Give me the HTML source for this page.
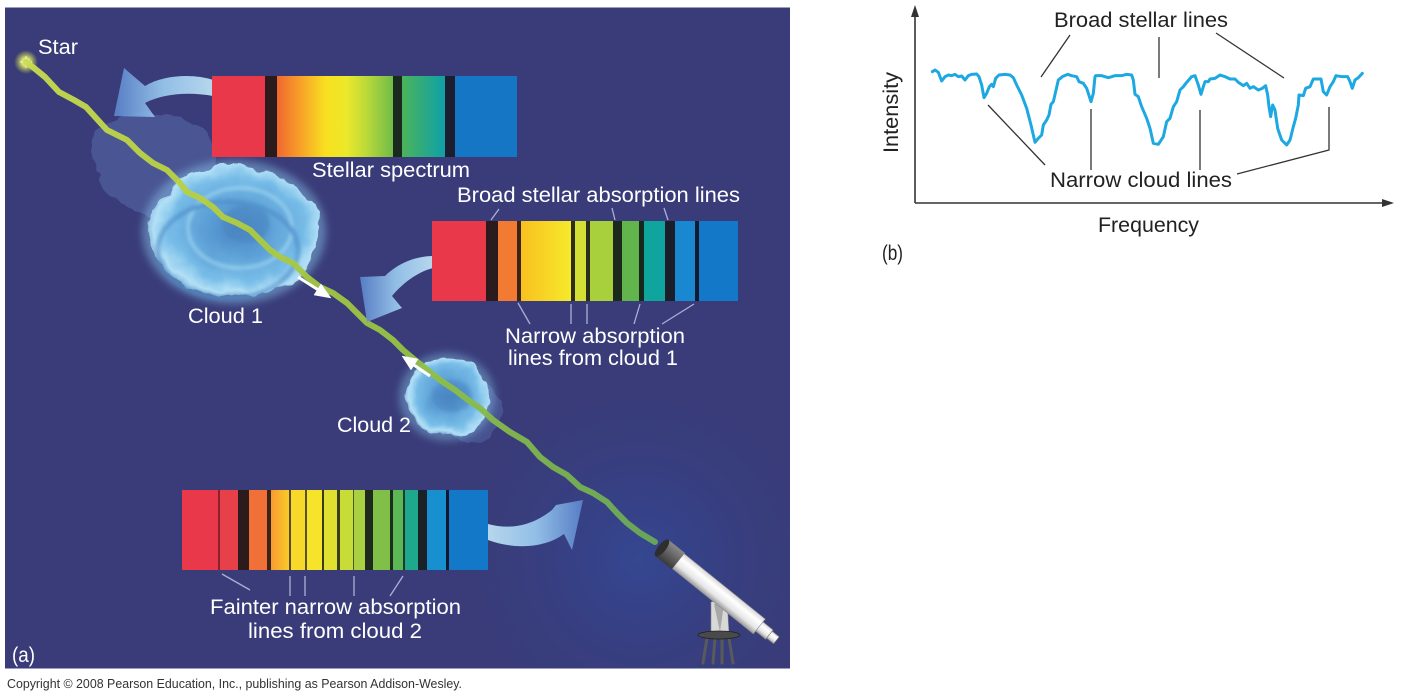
<!DOCTYPE html>
<html><head><meta charset="utf-8"><style>
html,body{margin:0;padding:0;background:#fff;}
svg{display:block;}
text{font-family:"Liberation Sans",Arial,sans-serif;}
</style></head><body>
<svg width="1402" height="700" viewBox="0 0 1402 700" xmlns="http://www.w3.org/2000/svg">
<defs>
  <radialGradient id="glowT" cx="640" cy="560" r="200" gradientUnits="userSpaceOnUse">
    <stop offset="0" stop-color="#2f55b0" stop-opacity="0.45"/>
    <stop offset="0.5" stop-color="#3048a0" stop-opacity="0.2"/>
    <stop offset="1" stop-color="#393c78" stop-opacity="0"/>
  </radialGradient>
  <radialGradient id="cloudG" cx="0.52" cy="0.48" r="0.55">
    <stop offset="0" stop-color="#4a86c4"/>
    <stop offset="0.35" stop-color="#5c9fd6"/>
    <stop offset="0.7" stop-color="#78bde8"/>
    <stop offset="0.88" stop-color="#b2e0f6"/>
    <stop offset="1" stop-color="#9ed2f0" stop-opacity="0.6"/>
  </radialGradient>
  <radialGradient id="starG" cx="26" cy="62" r="12" gradientUnits="userSpaceOnUse">
    <stop offset="0" stop-color="#ffffe0"/>
    <stop offset="0.35" stop-color="#e8f070" stop-opacity="0.9"/>
    <stop offset="1" stop-color="#c0d040" stop-opacity="0"/>
  </radialGradient>
  <linearGradient id="pathG" x1="26" y1="62" x2="655" y2="542" gradientUnits="userSpaceOnUse">
    <stop offset="0" stop-color="#c8dc50"/>
    <stop offset="0.35" stop-color="#b0cc40"/>
    <stop offset="0.7" stop-color="#8abc48"/>
    <stop offset="1" stop-color="#6aa85a"/>
  </linearGradient>
  <linearGradient id="arrG" x1="0" y1="0" x2="1" y2="0">
    <stop offset="0" stop-color="#5b84cc"/>
    <stop offset="0.5" stop-color="#9ccdf2"/>
    <stop offset="1" stop-color="#c4e8fa"/>
  </linearGradient>
  <linearGradient id="arrG2" x1="1" y1="0" x2="0" y2="0">
    <stop offset="0" stop-color="#5b84cc"/>
    <stop offset="0.5" stop-color="#9ccdf2"/>
    <stop offset="1" stop-color="#c4e8fa"/>
  </linearGradient>
  <linearGradient id="s1a" x1="277" x2="393" y1="0" y2="0" gradientUnits="userSpaceOnUse">
    <stop offset="0" stop-color="#f06830"/>
    <stop offset="0.2" stop-color="#f8a028"/>
    <stop offset="0.42" stop-color="#f8e020"/>
    <stop offset="0.6" stop-color="#ece82a"/>
    <stop offset="0.78" stop-color="#b8d83a"/>
    <stop offset="1" stop-color="#70bc48"/>
  </linearGradient>
  <linearGradient id="s1b" x1="402" x2="445" y1="0" y2="0" gradientUnits="userSpaceOnUse">
    <stop offset="0" stop-color="#4cb45a"/>
    <stop offset="1" stop-color="#0ea0a8"/>
  </linearGradient>
  <linearGradient id="s2y" x1="521" x2="571" y1="0" y2="0" gradientUnits="userSpaceOnUse">
    <stop offset="0" stop-color="#f8c020"/>
    <stop offset="1" stop-color="#f6ea2a"/>
  </linearGradient>
  <linearGradient id="s3o" x1="271" x2="289" y1="0" y2="0" gradientUnits="userSpaceOnUse">
    <stop offset="0" stop-color="#f89a30"/>
    <stop offset="1" stop-color="#f8cc28"/>
  </linearGradient>
  <linearGradient id="tubeG" x1="0" y1="0" x2="0" y2="1">
    <stop offset="0" stop-color="#d8d8d8"/>
    <stop offset="0.3" stop-color="#ffffff"/>
    <stop offset="0.7" stop-color="#e6e6e6"/>
    <stop offset="1" stop-color="#9a9a9a"/>
  </linearGradient>
  <linearGradient id="capG" x1="0" y1="0" x2="0" y2="1">
    <stop offset="0" stop-color="#8a8a8a"/>
    <stop offset="0.4" stop-color="#6a6a6a"/>
    <stop offset="1" stop-color="#3a3a3a"/>
  </linearGradient>
  <filter id="rough" x="-20%" y="-20%" width="140%" height="140%">
    <feTurbulence type="fractalNoise" baseFrequency="0.045" numOctaves="3" seed="4" result="n"/>
    <feDisplacementMap in="SourceGraphic" in2="n" scale="14" xChannelSelector="R" yChannelSelector="G"/>
  </filter>
  <filter id="blur4"><feGaussianBlur stdDeviation="4"/></filter>
  <filter id="blur2"><feGaussianBlur stdDeviation="1.5"/></filter>
</defs>

<!-- ===== Panel (a) ===== -->
<rect x="5" y="7.5" width="785" height="661" fill="#393c78"/>
<rect x="5" y="7.5" width="785" height="661" fill="url(#glowT)"/>

<!-- faint cloud tails -->
<g opacity="0.35" filter="url(#rough)">
  <path d="M92,150 C90,130 110,112 140,114 C170,112 205,122 215,145 C222,175 210,205 185,218 C160,225 130,215 112,195 C98,182 94,165 92,150 Z" fill="#6a88c8"/>
</g>
<g opacity="0.3" filter="url(#rough)">
  <ellipse cx="470" cy="412" rx="34" ry="30" fill="#6a8ac8"/>
</g>

<!-- cloud 1 -->
<ellipse cx="234" cy="232" rx="92" ry="72" fill="#8ccaf0" opacity="0.45" filter="url(#blur4)"/>
<g filter="url(#rough)">
  <ellipse cx="234" cy="232" rx="86" ry="66" fill="url(#cloudG)"/>
</g>
<g opacity="0.55" filter="url(#blur2)">
  <ellipse cx="240" cy="228" rx="52" ry="40" fill="none" stroke="#a8dcf4" stroke-width="4"/>
  <ellipse cx="246" cy="224" rx="24" ry="19" fill="#4a84c0"/>
  <ellipse cx="228" cy="250" rx="70" ry="48" fill="none" stroke="#4a88c4" stroke-width="5"/>
</g>

<!-- cloud 2 -->
<ellipse cx="447" cy="397" rx="48" ry="44" fill="#8ccaf0" opacity="0.4" filter="url(#blur4)"/>
<g filter="url(#rough)">
  <ellipse cx="447" cy="397" rx="43" ry="39" fill="url(#cloudG)"/>
</g>
<g opacity="0.5" filter="url(#blur2)">
  <ellipse cx="452" cy="396" rx="20" ry="16" fill="#4a84c0"/>
</g>

<!-- star -->
<circle cx="26" cy="62" r="12" fill="url(#starG)"/>
<path d="M20,62 H32 M26,56 V68" stroke="#ffffd0" stroke-width="1" opacity="0.8"/>

<!-- light path -->
<polyline fill="none" stroke="url(#pathG)" stroke-width="6" stroke-linecap="round" stroke-linejoin="round" opacity="0.95"
 points="26,62 34,68 45,77 59,92 74,100 86,107 96,118 107,130 127,140 140,153 153,163 167,170 180,183 187,192 200,198 213,207 223,217 237,223 250,230 260,240 270,250 280,257 293,263 307,277 320,287 333,293 347,303 357,313 367,323 380,330 393,340 403,350 415,360 425,368 440,380 455,390 468,400 480,408 493,420 510,432 527,442 540,457 553,467 567,475 580,487 593,493 607,502 617,513 627,523 640,533 655,542"/>

<!-- white arrows on clouds -->
<g fill="#ffffff" stroke="#ffffff">
  <line x1="298" y1="277" x2="320" y2="291" stroke-width="3"/>
  <polygon points="331,298 314,295 321,284" stroke-width="0.5"/>
  <line x1="430" y1="376" x2="411" y2="363" stroke-width="3"/>
  <polygon points="402,356 418,359 411,370" stroke-width="0.5"/>
</g>

<!-- blue curved arrows -->
<path d="M213,80 C195,74 165,74 145,86 L124,68 L114,116 L155,117 L145,103 C165,93 190,92 213,96 Z" fill="url(#arrG)" opacity="0.9"/>
<path d="M433,256 C415,256 397,264 385,276 L360,277 L367,322 L402,308 L392,296 C402,284 417,272 433,268 Z" fill="url(#arrG)" opacity="0.9"/>
<path d="M488,524 C510,530 532,526 552,510 L556,505 L583,500 L572,550 L564,534 C545,548 515,550 488,540 Z" fill="url(#arrG2)" opacity="0.9"/>

<!-- spectrum 1 (stellar) -->
<g>
  <rect x="212" y="76" width="53" height="81" fill="#e8384a"/>
  <rect x="265" y="76" width="12" height="81" fill="#2b1b1d"/>
  <rect x="277" y="76" width="116" height="81" fill="url(#s1a)"/>
  <rect x="393" y="76" width="9" height="81" fill="#1a2a1e"/>
  <rect x="402" y="76" width="43" height="81" fill="url(#s1b)"/>
  <rect x="445" y="76" width="10" height="81" fill="#1a1e2e"/>
  <rect x="455" y="76" width="62" height="81" fill="#1676c6"/>
</g>

<!-- spectrum 2 (cloud 1) -->
<g>
  <rect x="432" y="221" width="54" height="80" fill="#e8384a"/>
  <rect x="486" y="221" width="12" height="80" fill="#2b1b1d"/>
  <rect x="498" y="221" width="19" height="80" fill="#f27a32"/>
  <rect x="517" y="221" width="4" height="80" fill="#3a2418"/>
  <rect x="521" y="221" width="50" height="80" fill="url(#s2y)"/>
  <rect x="571" y="221" width="4" height="80" fill="#2e2e1a"/>
  <rect x="575" y="221" width="11" height="80" fill="#d4e034"/>
  <rect x="586" y="221" width="4" height="80" fill="#2a2e1a"/>
  <rect x="590" y="221" width="23" height="80" fill="#a8d03c"/>
  <rect x="613" y="221" width="9" height="80" fill="#1c2a1c"/>
  <rect x="622" y="221" width="17" height="80" fill="#62b44c"/>
  <rect x="639" y="221" width="5" height="80" fill="#16281e"/>
  <rect x="644" y="221" width="21" height="80" fill="#10a49e"/>
  <rect x="665" y="221" width="10" height="80" fill="#1a1e2a"/>
  <rect x="675" y="221" width="20" height="80" fill="#1a88d0"/>
  <rect x="695" y="221" width="4" height="80" fill="#121a30"/>
  <rect x="699" y="221" width="39" height="80" fill="#1478c8"/>
</g>

<!-- spectrum 3 (cloud 2) -->
<g>
  <rect x="182" y="490" width="36" height="80" fill="#e8384a"/>
  <rect x="218" y="490" width="2" height="80" fill="#8a2030"/>
  <rect x="220" y="490" width="18" height="80" fill="#e84048"/>
  <rect x="238" y="490" width="11" height="80" fill="#2b1b1d"/>
  <rect x="249" y="490" width="18" height="80" fill="#f07038"/>
  <rect x="267" y="490" width="4" height="80" fill="#3a2418"/>
  <rect x="271" y="490" width="18" height="80" fill="url(#s3o)"/>
  <rect x="289" y="490" width="2" height="80" fill="#5a4a20"/>
  <rect x="291" y="490" width="14" height="80" fill="#f8d828"/>
  <rect x="305" y="490" width="2" height="80" fill="#5a5220"/>
  <rect x="307" y="490" width="15" height="80" fill="#f6e42a"/>
  <rect x="322" y="490" width="2" height="80" fill="#3a3a1a"/>
  <rect x="324" y="490" width="13" height="80" fill="#e0e030"/>
  <rect x="337" y="490" width="3" height="80" fill="#3a3e1a"/>
  <rect x="340" y="490" width="13" height="80" fill="#c8dc38"/>
  <rect x="353" y="490" width="1" height="80" fill="#4a5a20"/>
  <rect x="354" y="490" width="11" height="80" fill="#a8d040"/>
  <rect x="365" y="490" width="8" height="80" fill="#1e2a1e"/>
  <rect x="373" y="490" width="17" height="80" fill="#80c048"/>
  <rect x="390" y="490" width="3" height="80" fill="#1e2e1e"/>
  <rect x="393" y="490" width="10" height="80" fill="#5cb854"/>
  <rect x="403" y="490" width="2" height="80" fill="#1e3a2e"/>
  <rect x="405" y="490" width="13" height="80" fill="#1ea88c"/>
  <rect x="418" y="490" width="9" height="80" fill="#1a2228"/>
  <rect x="427" y="490" width="19" height="80" fill="#1890d0"/>
  <rect x="446" y="490" width="3" height="80" fill="#101830"/>
  <rect x="449" y="490" width="39" height="80" fill="#1478c8"/>
</g>

<!-- pointer lines (a) -->
<g stroke="#aab0d8" stroke-width="1.3" fill="none">
  <line x1="499" y1="209" x2="491" y2="220"/>
  <line x1="612" y1="208" x2="615" y2="220"/>
  <line x1="664" y1="208" x2="668" y2="220"/>
  <line x1="518" y1="303" x2="530" y2="324"/>
  <line x1="571" y1="304" x2="571" y2="324"/>
  <line x1="587" y1="304" x2="587" y2="324"/>
  <line x1="640" y1="304" x2="634" y2="324"/>
  <line x1="694" y1="304" x2="662" y2="324"/>
  <line x1="222" y1="574" x2="250" y2="590"/>
  <line x1="290" y1="576" x2="290" y2="596"/>
  <line x1="305" y1="576" x2="305" y2="596"/>
  <line x1="354" y1="576" x2="354" y2="596"/>
  <line x1="403" y1="576" x2="390" y2="596"/>
</g>

<!-- telescope -->
<g>
  <polygon points="711,602 727,598 729,634 711,634" fill="#d8d8d8" stroke="#888" stroke-width="0.6"/>
  <polygon points="714,604 720,632 724,604" fill="#a8a8a8"/>
  <g stroke="#5a5a5a" stroke-width="3" stroke-linecap="round">
    <line x1="707" y1="638" x2="703" y2="663"/>
    <line x1="715" y1="638" x2="713" y2="663"/>
    <line x1="722" y1="638" x2="722" y2="663"/>
    <line x1="729" y1="638" x2="733" y2="663"/>
  </g>
  <ellipse cx="719" cy="635" rx="21" ry="4" fill="#4a4a4a" stroke="#222" stroke-width="0.8"/>
  <g transform="translate(662,548) rotate(38.9)">
    <rect x="124" y="-6" width="14" height="12" fill="url(#tubeG)" stroke="#777" stroke-width="0.6"/>
    <rect x="138" y="-4.5" width="9" height="9" fill="url(#tubeG)" stroke="#777" stroke-width="0.6"/>
    <rect x="20" y="-9.5" width="105" height="19" fill="url(#tubeG)" stroke="#8a8a8a" stroke-width="0.6"/>
    <rect x="0" y="-10.5" width="21" height="21" fill="url(#capG)"/>
    <ellipse cx="0" cy="0" rx="4" ry="10.5" fill="#2e2e2e"/>
  </g>
</g>

<!-- labels (a) -->
<g fill="#ffffff" font-size="21">
  <text x="38" y="54" textLength="40" lengthAdjust="spacingAndGlyphs">Star</text>
  <text x="312" y="177" textLength="158" lengthAdjust="spacingAndGlyphs">Stellar spectrum</text>
  <text x="457" y="202" textLength="283" lengthAdjust="spacingAndGlyphs">Broad stellar absorption lines</text>
  <text x="505" y="343" textLength="180" lengthAdjust="spacingAndGlyphs">Narrow absorption</text>
  <text x="508" y="365" textLength="170" lengthAdjust="spacingAndGlyphs">lines from cloud 1</text>
  <text x="188" y="323" textLength="75" lengthAdjust="spacingAndGlyphs">Cloud 1</text>
  <text x="337" y="432" textLength="74" lengthAdjust="spacingAndGlyphs">Cloud 2</text>
  <text x="210" y="614" textLength="251" lengthAdjust="spacingAndGlyphs">Fainter narrow absorption</text>
  <text x="248" y="638" textLength="174" lengthAdjust="spacingAndGlyphs">lines from cloud 2</text>
  <text x="12" y="662" textLength="23" lengthAdjust="spacingAndGlyphs">(a)</text>
</g>

<text x="7" y="688" font-size="12.5" fill="#333" textLength="455" lengthAdjust="spacingAndGlyphs">Copyright © 2008 Pearson Education, Inc., publishing as Pearson Addison-Wesley.</text>

<!-- ===== Panel (b) ===== -->
<g stroke="#333" stroke-width="1.6" fill="none">
  <line x1="915" y1="15" x2="915" y2="203"/>
  <line x1="915" y1="203" x2="1384" y2="203"/>
</g>
<polygon points="915,5 911,17 919,17" fill="#333"/>
<polygon points="1394,203 1382,199 1382,207" fill="#333"/>

<g stroke="#333" stroke-width="1.3" fill="none">
  <line x1="1070" y1="35" x2="1041" y2="77"/>
  <line x1="1159" y1="37" x2="1159" y2="78"/>
  <line x1="1216" y1="33" x2="1284" y2="78"/>
  <line x1="988" y1="105" x2="1045" y2="165"/>
  <line x1="1091" y1="109" x2="1091" y2="170"/>
  <line x1="1200" y1="110" x2="1200" y2="170"/>
  <polyline points="1329,107 1329,150 1237,174"/>
</g>

<polyline transform="translate(925,55) scale(0.33333)" fill="none" stroke="#1ea8e2" stroke-width="9" stroke-linejoin="round" stroke-linecap="round"
 points="22,50 30,45 40,52 50,78 60,65 70,60 80,62 90,58 100,65 110,63 120,75 130,62 140,58 155,57 162,65 170,90 177,128 185,115 193,95 200,88 205,95 212,70 222,60 240,58 255,60 265,68 275,90 290,120 305,160 318,210 330,262 340,250 350,240 355,210 365,195 372,180 378,148 385,140 392,110 400,75 412,65 428,58 440,62 455,65 462,80 475,85 485,100 498,140 505,115 510,65 512,62 530,62 550,68 570,62 590,62 605,58 620,60 625,75 630,118 640,125 650,155 665,190 675,220 685,265 700,268 715,245 725,200 735,190 745,155 755,140 765,105 775,95 785,82 800,65 810,62 820,90 828,118 835,95 840,80 850,80 855,72 870,70 885,60 900,65 915,72 930,72 940,82 955,92 965,85 975,100 985,95 1000,105 1012,100 1022,92 1028,120 1032,155 1037,185 1043,150 1050,165 1058,220 1070,255 1085,270 1095,255 1105,215 1112,190 1120,150 1122,120 1135,122 1142,100 1155,95 1165,72 1188,72 1195,110 1205,120 1215,95 1225,80 1233,62 1250,65 1268,65 1275,80 1282,100 1290,75 1300,68 1312,55"/>

<g fill="#222" font-size="21">
  <text x="1054" y="27" textLength="174" lengthAdjust="spacingAndGlyphs">Broad stellar lines</text>
  <text x="1050" y="187" textLength="182" lengthAdjust="spacingAndGlyphs">Narrow cloud lines</text>
  <text x="1098" y="232" textLength="101" lengthAdjust="spacingAndGlyphs">Frequency</text>
  <text x="882" y="260" textLength="21" lengthAdjust="spacingAndGlyphs">(b)</text>
  <text transform="translate(898,153) rotate(-90)" x="0" y="0" textLength="81" lengthAdjust="spacingAndGlyphs">Intensity</text>
</g>
</svg>
</body></html>
